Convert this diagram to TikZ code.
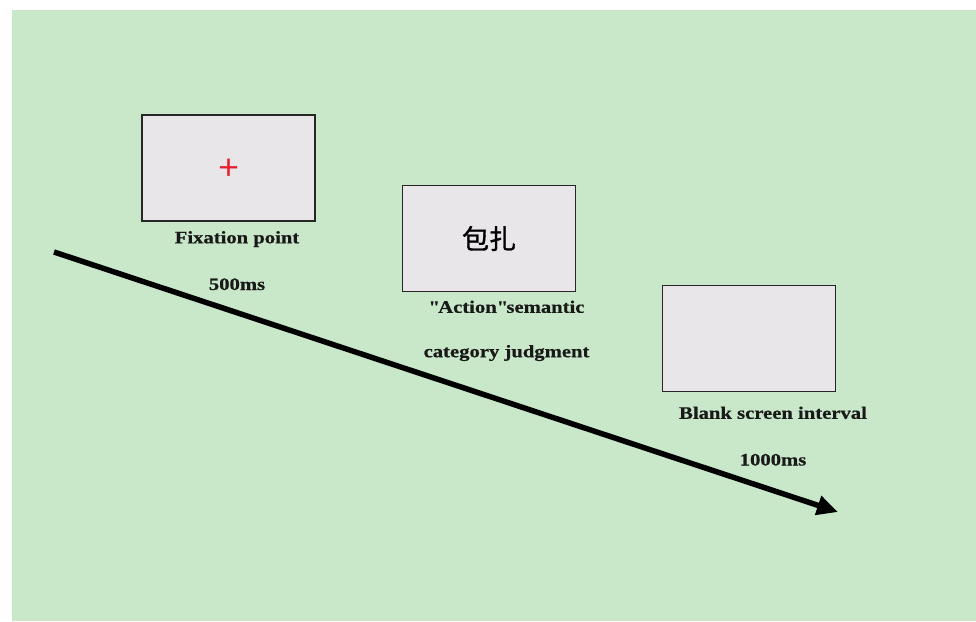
\documentclass[tikz,border=0pt]{standalone}
\usepackage{fontspec}
\setmainfont{Liberation Serif}[FakeStretch=1.18, BoldFeatures={FakeBold=0.6}]
\newfontfamily\cjkfont{Noto Sans CJK SC}[FakeBold=1.2]
\newfontfamily\crossfont{Liberation Serif}[FakeBold=1.2]
\usetikzlibrary{arrows.meta, positioning}
\definecolor{bggreen}{RGB}{201,232,201}
\definecolor{screengray}{RGB}{232,230,233}
\definecolor{fixred}{RGB}{232,30,45}

\begin{document}
\begin{tikzpicture}[
    x=1pt, y=-1pt,
    screen/.style={
        rectangle, draw=black!85, line width=1.3pt, fill=screengray,
        minimum width=173pt, minimum height=106pt, inner sep=0pt, outer sep=0pt
    },
    caption/.style={
        inner sep=0pt, outer sep=0pt, text height=13pt, text depth=4pt,
        font=\fontsize{17.5}{21}\selectfont\bfseries, text=black!90
    },
    timeline/.style={line width=5.5pt, -{Triangle[length=21pt, width=19pt]}}
]

%% Background
\useasboundingbox (0,0) rectangle (976,621);
\fill[white] (0,0) rectangle (976,621);
\fill[bggreen] (12,10) rectangle (976,621);

%% Time axis
\coordinate (tstart) at (54,252);
\coordinate (tend)   at (838,512);
\draw [timeline] (tstart) -- (tend);

%% Screens
\node (fix)   [screen] at (228.5,168) {};
\node (word)  [screen] at (489,238.5)
    {\cjkfont\fontsize{27}{30}\selectfont 包扎};
\node (blank) [screen] at (749,338.5) {};

%% Fixation cross
\node (cross) [inner sep=0pt, text=fixred] at ([yshift=-1pt]fix.center)
    {\crossfont\fontsize{36}{36}\selectfont +};

%% Captions
\node (fixlbl)   [caption, below=9.3pt of fix, xshift=8.5pt] {Fixation point};
\node (fixtime)  [caption, below=29.7pt of fixlbl] {500ms};

\node (wordlbl)  [caption, below=8.3pt of word, xshift=17.5pt]
    {\textquotedbl Action\textquotedbl semantic};
\node (wordlbl2) [caption, below=27.4pt of wordlbl] {category judgment};

\node (blanklbl) [caption, below=14.3pt of blank, xshift=24pt] {Blank screen interval};
\node (blanktime)[caption, below=29.7pt of blanklbl] {1000ms};

\end{tikzpicture}
\end{document}
